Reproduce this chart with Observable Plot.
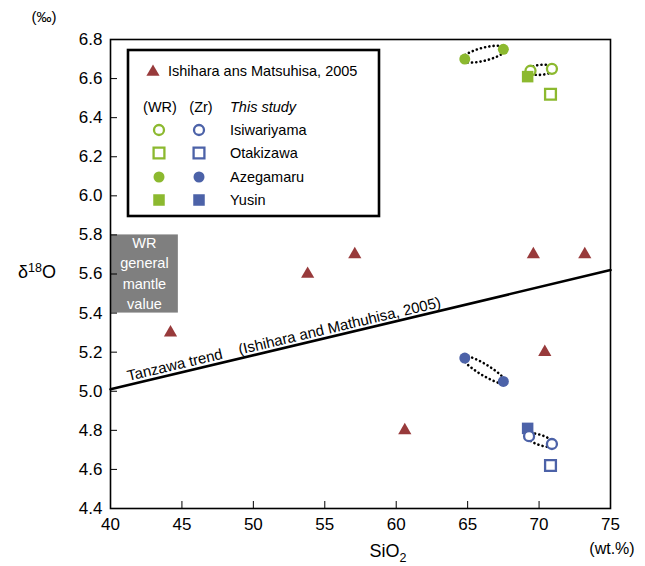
<!DOCTYPE html>
<html><head><meta charset="utf-8">
<script src="https://cdn.jsdelivr.net/npm/d3@7"></script>
<script src="https://cdn.jsdelivr.net/npm/@observablehq/plot@0.6"></script>
<style>body{margin:0;background:#fff;} #chart{width:645px;height:566px;}</style>
</head><body><div id="chart"></div>
<script>
// ---- data ----
const xTicks = [40, 45, 50, 55, 60, 65, 70, 75];
const yTicks = [4.4, 4.6, 4.8, 5.0, 5.2, 5.4, 5.6, 5.8, 6.0, 6.2, 6.4, 6.6, 6.8];
// Ishihara and Matsuhisa, 2005
const ishSiO2 = [44.2, 53.8, 57.1, 60.6, 69.6, 70.4, 73.2];
const ishD18O = [5.30, 5.60, 5.70, 4.80, 5.70, 5.20, 5.70];
// This study, whole rock (WR)
const wrSite = ["Azegamaru", "Azegamaru", "Isiwariyama", "Isiwariyama", "Yusin", "Otakizawa"];
const wrSiO2 = [64.8, 67.5, 69.4, 70.9, 69.2, 70.8];
const wrD18O = [6.70, 6.75, 6.64, 6.65, 6.61, 6.52];
// This study, zircon (Zr)
const zrSite = ["Azegamaru", "Azegamaru", "Isiwariyama", "Isiwariyama", "Yusin", "Otakizawa"];
const zrSiO2 = [64.8, 67.5, 69.3, 70.9, 69.2, 70.8];
const zrD18O = [5.17, 5.05, 4.77, 4.73, 4.81, 4.62];
// Tanzawa trend
const trendSiO2 = [40, 75];
const trendD18O = [5.01, 5.62];
// WR general mantle value band
const mantleSiO2 = [40, 44.75];
const mantleD18O = [5.4, 5.8];
const legendSites = ["Isiwariyama", "Otakizawa", "Azegamaru", "Yusin"];

// ---- styling ----
const GREEN = "#8cb92f", BLUE = "#4c62a8", RED = "#983a3b", GRAY = "#7f7f7f";
const FONT = "'Liberation Sans', Arial, Helvetica, sans-serif";
const W = 645, H = 566, mL = 110, mR = 35, mT = 39, mB = 58;

const sx = Plot.scale({x: {domain: [40, 75], range: [mL, W - mR]}});
const sy = Plot.scale({y: {domain: [4.4, 6.8], range: [H - mB, mT]}});

const table = (site, xs, ys) => site.map((s, i) => ({site: s, x: xs[i], y: ys[i]}));
const wr = table(wrSite, wrSiO2, wrD18O);
const zr = table(zrSite, zrSiO2, zrD18O);
const ish = ishSiO2.map((v, i) => ({x: v, y: ishD18O[i]}));
const trend = trendSiO2.map((v, i) => ({x: v, y: trendD18O[i]}));

// dotted ellipse enclosing the two samples of a site (computed in screen space via the scales)
function ellipse(rows, site, b, grow) {
  const p = rows.filter(d => d.site === site);
  const x1 = sx.apply(p[0].x), y1 = sy.apply(p[0].y), x2 = sx.apply(p[1].x), y2 = sy.apply(p[1].y);
  const cx = (x1 + x2) / 2, cy = (y1 + y2) / 2;
  const a = Math.hypot(x2 - x1, y2 - y1) / 2 + grow, th = Math.atan2(y2 - y1, x2 - x1);
  const pts = [];
  for (let i = 0; i <= 90; i++) {
    const t = i / 90 * 2 * Math.PI, u = a * Math.cos(t), v = b * Math.sin(t);
    pts.push({x: sx.invert(cx + u * Math.cos(th) - v * Math.sin(th)),
              y: sy.invert(cy + u * Math.sin(th) + v * Math.cos(th))});
  }
  return pts;
}
const ellipses = [
  ellipse(wr, "Azegamaru", 6.5, 3), ellipse(wr, "Isiwariyama", 5, 3),
  ellipse(zr, "Azegamaru", 5.5, 3), ellipse(zr, "Isiwariyama", 5, 3)
];
const dotted = {stroke: "black", strokeWidth: 2.6, strokeDasharray: "0.1 4.2", strokeLinecap: "round"};

function siteMarks(rows, color, filledSquareFirst) {
  const f = s => rows.filter(d => d.site === s);
  const openCircle = Plot.dot(f("Isiwariyama"), {x: "x", y: "y", r: 5, stroke: color, strokeWidth: 2.3, fill: "white"});
  const fillSquare = Plot.dot(f("Yusin"), {x: "x", y: "y", symbol: "square", r: 6.5, fill: color});
  return [
    ...(filledSquareFirst ? [fillSquare, openCircle] : [openCircle, fillSquare]),
    Plot.dot(f("Azegamaru"), {x: "x", y: "y", r: 5.5, fill: color}),
    Plot.dot(f("Otakizawa"), {x: "x", y: "y", symbol: "square", r: 6.1, stroke: color, strokeWidth: 2.3, fill: "white"})
  ];
}

const plot = Plot.plot({
  width: W, height: H,
  marginLeft: mL, marginRight: mR, marginTop: mT, marginBottom: mB,
  style: {fontFamily: FONT, background: "white", color: "black"},
  x: {domain: [40, 75], label: null},
  y: {domain: [4.4, 6.8], label: null},
  marks: [
    Plot.rect([0], {x1: mantleSiO2[0], x2: mantleSiO2[1], y1: mantleD18O[0], y2: mantleD18O[1], fill: GRAY}),
    Plot.text(["WR\ngeneral\nmantle\nvalue"], {x: (mantleSiO2[0] + mantleSiO2[1]) / 2, y: (mantleD18O[0] + mantleD18O[1]) / 2,
      text: d => d, fill: "white", fontSize: 14.5, lineHeight: 1.4, dy: -2}),
    Plot.line(trend, {x: "x", y: "y", stroke: "black", strokeWidth: 2.6}),
    Plot.text(["Tanzawa trend\u00a0\u00a0\u00a0 (Ishihara and Mathuhisa, 2005)"], {
      x: sx.invert(128), y: trendD18O[0] + (sx.invert(128) - trendSiO2[0]) * (trendD18O[1] - trendD18O[0]) / (trendSiO2[1] - trendSiO2[0]),
      text: d => d, rotate: -13.3, textAnchor: "start", lineAnchor: "bottom", dy: -4, fontSize: 15, fill: "black"}),
    ...ellipses.map(e => Plot.line(e, {x: "x", y: "y", ...dotted})),
    Plot.dot(ish, {x: "x", y: "y", symbol: "triangle", r: 4.9, fill: RED}),
    ...siteMarks(wr, GREEN, false),
    ...siteMarks(zr, BLUE, true),
    Plot.axisX({ticks: xTicks, tickSize: 0, tickPadding: 9, fontSize: 17, label: null}),
    Plot.axisX({ticks: xTicks, tickSize: 7, dy: -7, tickFormat: () => "", label: null}),
    Plot.axisY({ticks: yTicks, tickSize: 0, tickPadding: 8, fontSize: 17, tickFormat: d3.format(".1f"), label: null}),
    Plot.axisY({ticks: yTicks, tickSize: 7, dx: 7, tickFormat: () => "", label: null}),
    Plot.frame({stroke: "black", strokeWidth: 1.6})
  ]
});

const svg = d3.select(plot);
// axis titles
const t1 = svg.append("text").attr("x", 37).attr("y", 278).attr("text-anchor", "middle")
  .attr("font-family", FONT).attr("font-size", 18).attr("fill", "black");
t1.append("tspan").text("δ");
t1.append("tspan").attr("dy", -6).attr("font-size", 12.5).text("18");
t1.append("tspan").attr("dy", 6).text("O");
svg.append("text").attr("x", 44).attr("y", 22).attr("text-anchor", "middle")
  .attr("font-family", FONT).attr("font-size", 15).attr("fill", "black").text("(‰)");
const t2 = svg.append("text").attr("x", 388).attr("y", 557).attr("text-anchor", "middle")
  .attr("font-family", FONT).attr("font-size", 18).attr("fill", "black");
t2.append("tspan").text("SiO");
t2.append("tspan").attr("dy", 5).attr("font-size", 12.5).text("2");
svg.append("text").attr("x", 612).attr("y", 554).attr("text-anchor", "middle")
  .attr("font-family", FONT).attr("font-size", 16).attr("fill", "black").text("(wt.%)");

// legend
const lg = svg.append("g").attr("font-family", FONT).attr("font-size", 14.5).attr("fill", "black").attr("text-anchor", "start");
lg.append("rect").attr("x", 128).attr("y", 50).attr("width", 251).attr("height", 166)
  .attr("fill", "white").attr("stroke", "black").attr("stroke-width", 2.6);
const sym = (type, size) => d3.symbol().type(type).size(size)();
lg.append("path").attr("d", sym(d3.symbolTriangle, 4.9 * 4.9 * Math.PI)).attr("transform", "translate(153,72)").attr("fill", RED);
lg.append("text").attr("x", 168).attr("y", 71).attr("dy", "0.35em").attr("text-anchor", "start").text("Ishihara ans Matsuhisa, 2005");
lg.append("text").attr("x", 160).attr("y", 107).attr("dy", "0.35em").attr("text-anchor", "middle").text("(WR)");
lg.append("text").attr("x", 201).attr("y", 107).attr("dy", "0.35em").attr("text-anchor", "middle").text("(Zr)");
lg.append("text").attr("x", 230).attr("y", 107).attr("dy", "0.35em").attr("text-anchor", "start").attr("font-style", "italic").text("This study");
const rowY = [130, 153, 177, 200];
legendSites.forEach((s, i) => {
  [[159, GREEN], [199, BLUE]].forEach(([cx, col]) => {
    const g = lg.append("path").attr("transform", `translate(${cx},${rowY[i]})`);
    if (s === "Isiwariyama") g.attr("d", sym(d3.symbolCircle, 25 * Math.PI)).attr("fill", "white").attr("stroke", col).attr("stroke-width", 2.3);
    if (s === "Otakizawa") g.attr("d", sym(d3.symbolSquare, 6.1 * 6.1 * Math.PI)).attr("fill", "white").attr("stroke", col).attr("stroke-width", 2.3);
    if (s === "Azegamaru") g.attr("d", sym(d3.symbolCircle, 5.5 * 5.5 * Math.PI)).attr("fill", col);
    if (s === "Yusin") g.attr("d", sym(d3.symbolSquare, 6.5 * 6.5 * Math.PI)).attr("fill", col);
  });
  lg.append("text").attr("x", 230).attr("y", rowY[i]).attr("dy", "0.35em").attr("text-anchor", "start").text(s);
});

document.getElementById("chart").append(plot);
</script>
</body></html>
